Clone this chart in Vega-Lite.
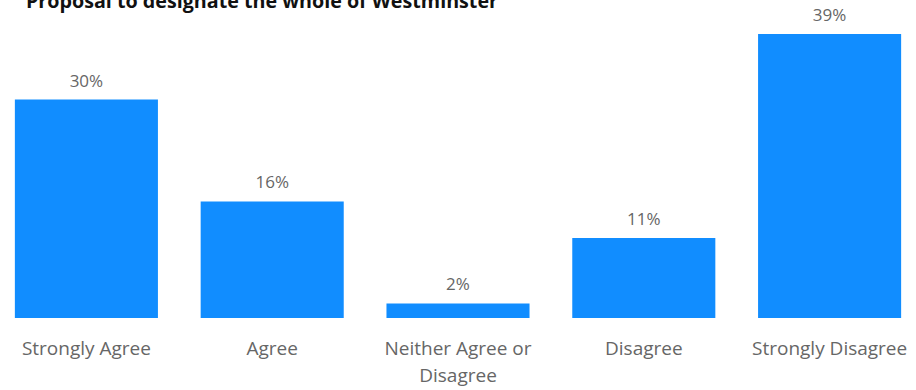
{
  "$schema": "https://vega.github.io/schema/vega-lite/v6.json",
  "autosize": {"type": "none"},
  "width": 916,
  "height": 284,
  "padding": {"left": 0, "top": 34, "right": 0, "bottom": 72},
  "background": "white",
  "title": {
    "text": "Proposal to designate the whole of Westminster",
    "anchor": "start",
    "frame": "group",
    "font": "Open Sans",
    "fontWeight": "bold",
    "fontSize": 19.7,
    "color": "#111111",
    "offset": 0,
    "dy": 5,
    "dx": 26
  },
  "data": {
    "values": [
      {"label": "Strongly Agree", "value": 0.30},
      {"label": "Agree", "value": 0.16},
      {"label": "Neither Agree or Disagree", "value": 0.02},
      {"label": "Disagree", "value": 0.11},
      {"label": "Strongly Disagree", "value": 0.39}
    ]
  },
  "encoding": {
    "x": {
      "field": "label",
      "type": "nominal",
      "sort": null,
      "scale": {"paddingInner": 0.23, "paddingOuter": 0.08},
      "axis": {
        "title": null,
        "domain": false,
        "ticks": false,
        "labelAngle": 0,
        "labelFont": "Open Sans",
        "labelFontSize": 19,
        "labelColor": "#666666",
        "labelPadding": 21,
        "labelLineHeight": 27,
        "labelExpr": "datum.label == 'Neither Agree or Disagree' ? ['Neither Agree or', 'Disagree'] : datum.label"
      }
    },
    "y": {
      "field": "value",
      "type": "quantitative",
      "scale": {"domain": [0, 0.39], "nice": false},
      "axis": null
    }
  },
  "layer": [
    {"mark": {"type": "bar", "color": "#118DFF"}},
    {
      "mark": {"type": "text", "baseline": "alphabetic", "dy": -13, "font": "Open Sans", "fontSize": 17, "color": "#666666"},
      "encoding": {"text": {"field": "value", "type": "quantitative", "format": ".0%"}}
    }
  ],
  "config": {"view": {"stroke": null}}
}
